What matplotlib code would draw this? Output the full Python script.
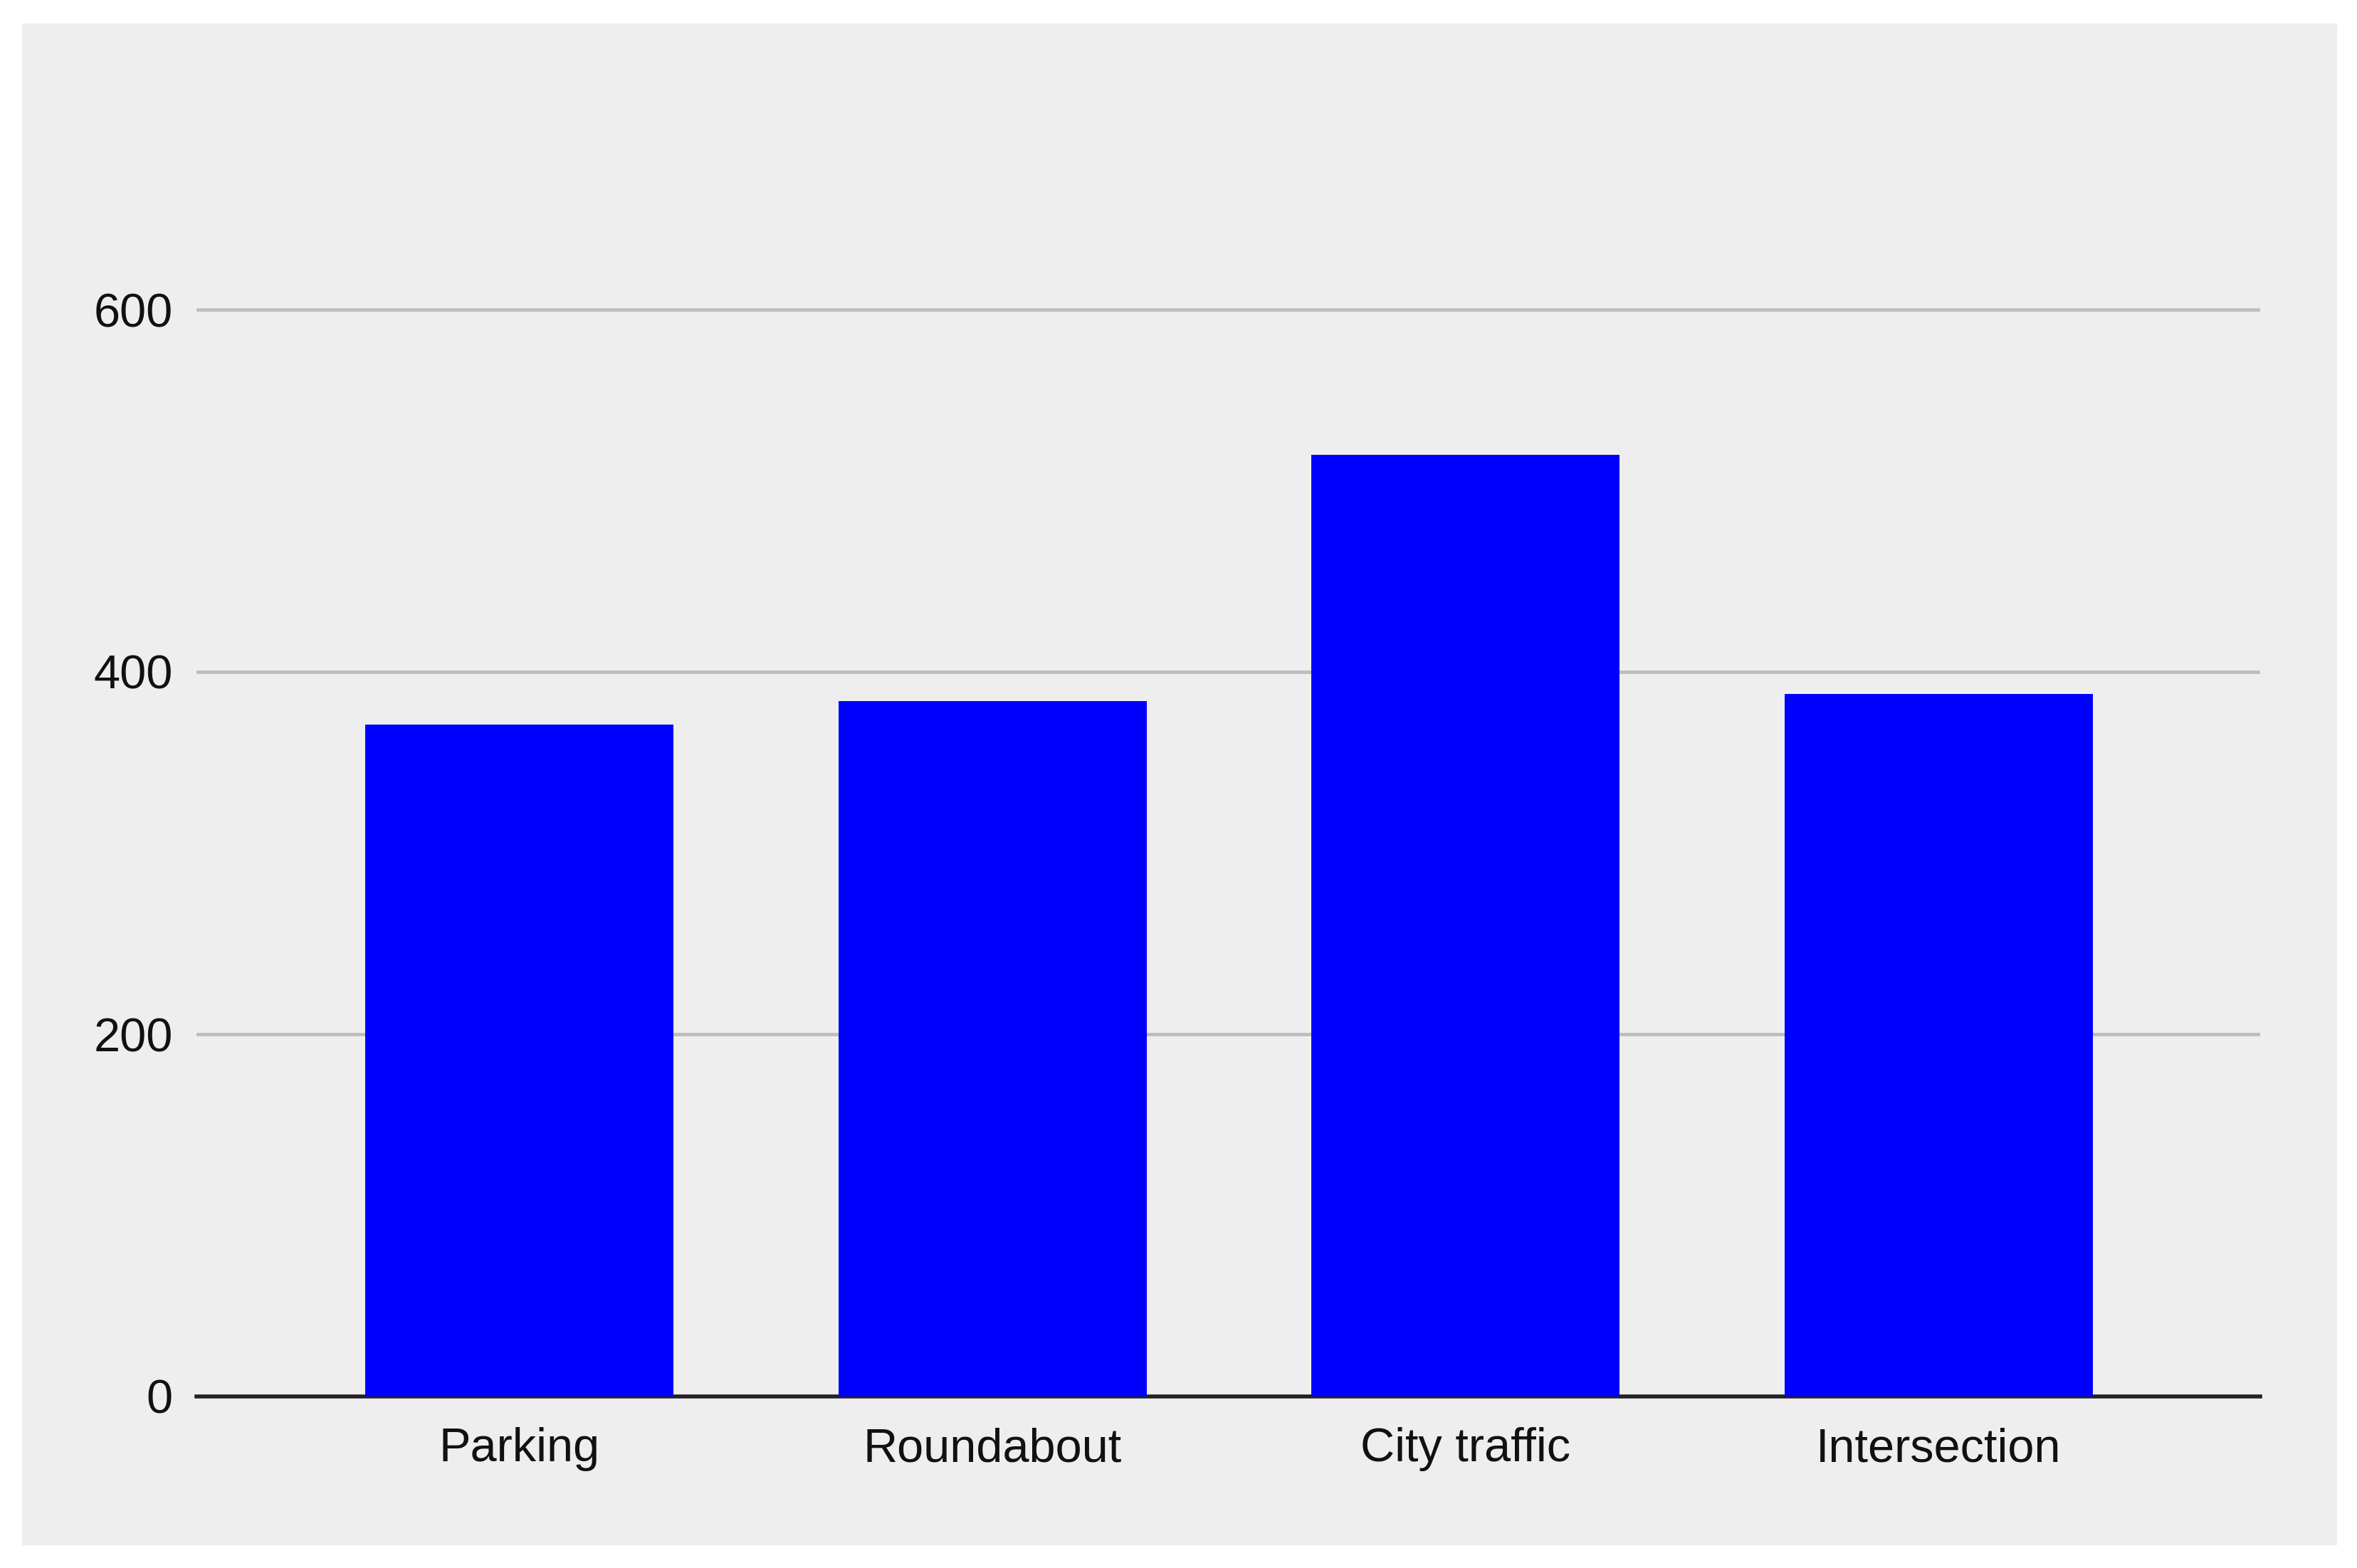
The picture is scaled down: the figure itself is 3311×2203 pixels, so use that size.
import matplotlib
matplotlib.use("Agg")
import matplotlib.pyplot as plt
from matplotlib.patches import Rectangle

categories = ["Parking", "Roundabout", "City traffic", "Intersection"]
values = [371, 384, 520, 388]
yticks = [0, 200, 400, 600]
ytick_labels = ["0", "200", "400", "600"]

W, H = 3311, 2203
DPI = 100
plt.rcParams['font.family'] = ['Liberation Sans', 'DejaVu Sans']

fig = plt.figure(figsize=(W / DPI, H / DPI), dpi=DPI, facecolor="white")

# grey panel
panel = Rectangle((31 / W, 1 - 2171 / H), (3283 - 31) / W, (2171 - 33) / H,
                  transform=fig.transFigure, facecolor="#eeeeee",
                  edgecolor="none", zorder=-10)
fig.add_artist(panel)

left, right = 276 / W, 3175 / W
bottom = 1 - 1962 / H
top = 1 - 180.5 / H
ax = fig.add_axes([left, bottom, right - left, top - bottom])
ax.set_zorder(1)
ax.set_facecolor("none")
ax.patch.set_alpha(0)

x = list(range(len(categories)))
ax.bar(x, values, width=0.652, color="#0000ff", zorder=3)

ax.set_xlim(-0.683, len(categories) - 1 + 0.68)
ax.set_ylim(0, 700)
ax.set_yticks(yticks)
ax.set_yticklabels(ytick_labels)
ax.set_xticks(x)
ax.set_xticklabels(categories)

for s in ax.spines.values():
    s.set_visible(False)

ax.yaxis.grid(True, color="#bdbdbd", linewidth=3.4, zorder=1)
ax.set_axisbelow(True)
ax.axhline(0, color="#222222", linewidth=4.0, zorder=2, clip_on=False)

ax.tick_params(axis="both", length=0, labelsize=48, colors="#111111")
ax.tick_params(axis="y", pad=24)
ax.tick_params(axis="x", pad=31)

fig.savefig("out.png", dpi=DPI, facecolor="white")
